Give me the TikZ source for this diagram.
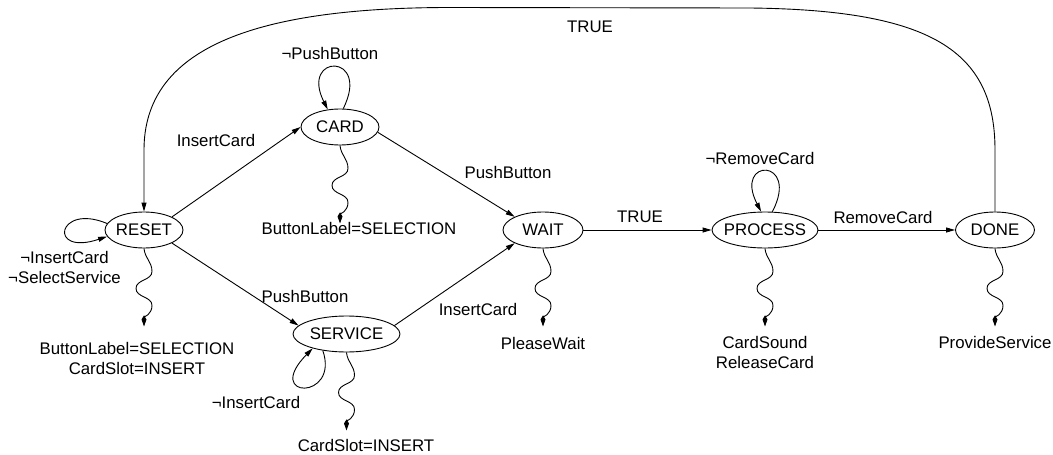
\documentclass[tikz,border=0pt]{standalone}
\usepackage{fontspec}
\setmainfont{Liberation Sans}
\usetikzlibrary{arrows.meta,shapes.geometric}
\begin{document}
\begin{tikzpicture}[x=1pt,y=1pt,
  font=\fontsize{16.8}{20}\selectfont,
  state/.style={ellipse, draw, line width=0.9pt, inner sep=0pt, minimum height=36pt},
  edge/.style={line width=0.9pt, -{Triangle[length=9pt,width=5pt]}},
  wave/.style={line width=0.9pt, -{Kite[length=11pt,width=5pt,inset=4pt]}},
  wiggle/.style={insert path={to[out=-85,in=90] ++(8,-23) to[out=-90,in=90] ++(-16,-17)
                 to[out=-90,in=90] ++(16,-17) to[out=-90,in=90] ++(-8,-21)}},
  lbl/.style={inner sep=0pt, align=center}]
\useasboundingbox (0,0) rectangle (1053,-455);

% states
\node[state, minimum width=78pt]  (RESET)   at (144,-230)   {\makebox[0pt]{RESET}};
\node[state, minimum width=78pt]  (CARD)    at (340,-127)   {\makebox[0pt]{CARD}};
\node[state, minimum width=107pt] (SERVICE) at (346.5,-334) {\makebox[0pt]{SERVICE}};
\node[state, minimum width=80pt]  (WAIT)    at (543,-230)   {\makebox[0pt]{WAIT}};
\node[state, minimum width=106pt] (PROCESS) at (765,-230)   {\makebox[0pt]{PROCESS}};
\node[state, minimum width=79pt]  (DONE)    at (995,-230)   {\makebox[0pt]{DONE}};

% transitions
\draw[edge] (RESET.north east) -- (CARD.west);
\draw[edge] (RESET.south east) -- (SERVICE.170);
\draw[edge] (CARD.-8) -- (WAIT.155);
\draw[edge] (SERVICE.10) -- (WAIT.205);
\draw[edge] (WAIT.east) -- (PROCESS.west);
\draw[edge] (PROCESS.east) -- (DONE.west);
\draw[edge] (DONE.north) -- (995,-150)
  .. controls (995,-50) and (930,-10) .. (750,-8) -- (450,-7.5)
  .. controls (250,-7.5) and (144,-50) .. (144,-150) -- (RESET.north);

% self loops
\draw[edge] (RESET.170) .. controls +(-50,21) and +(-60,-20) .. (RESET.190);
\draw[edge] (CARD.80) .. controls +(28,56) and +(-28,56) .. (CARD.125);
\draw[edge] (PROCESS.68) .. controls +(28,54) and +(-28,54) .. (PROCESS.102);
\draw[edge] (SERVICE.215) .. controls +(17,-50) and +(-50,-51) .. (SERVICE.203);

% outputs
\draw[wave] (RESET.south) [wiggle];
\draw[wave] (CARD.south) [wiggle];
\draw[wave] (SERVICE.south) [wiggle];
\draw[wave] (WAIT.south) [wiggle];
\draw[wave] (PROCESS.south) [wiggle];
\draw[wave] (DONE.south) [wiggle];

% labels
\node[lbl] (lTrueTop)   at (590,-27)    {TRUE};
\node[lbl] (lNotPush)   at (330,-53)    {¬PushButton};
\node[lbl] (lInsTop)    at (216,-140)   {InsertCard};
\node[lbl] (lOutCard)   at (359,-228)   {ButtonLabel=SELECTION};
\node[lbl] (lPushTop)   at (508,-172)   {PushButton};
\node[lbl] (lTrueMid)   at (640,-217)   {TRUE};
\node[lbl] (lInsBot)    at (478,-309)   {InsertCard};
\node[lbl] (lOutWait)   at (543,-343)   {PleaseWait};
\node[lbl] (lNotRemove) at (760,-158)   {¬RemoveCard};
\node[lbl] (lRemove)    at (883,-217)   {RemoveCard};
\node[lbl] (lOutProc)   at (765,-352.5) {CardSound\\ReleaseCard};
\node[lbl] (lOutDone)   at (995,-342)   {ProvideService};
\node[lbl] (lNotIns)    at (256,-402)   {¬InsertCard};
\node[lbl] (lOutServ)   at (366,-445)   {CardSlot=INSERT};
\node[lbl] (lPushBot)   at (305,-296)   {PushButton};
\node[lbl] (lOutReset)  at (137,-358)   {ButtonLabel=SELECTION\\CardSlot=INSERT};
\node[lbl] (lNotReset)  at (64.5,-267)  {¬InsertCard\\¬SelectService};
\end{tikzpicture}
\end{document}
